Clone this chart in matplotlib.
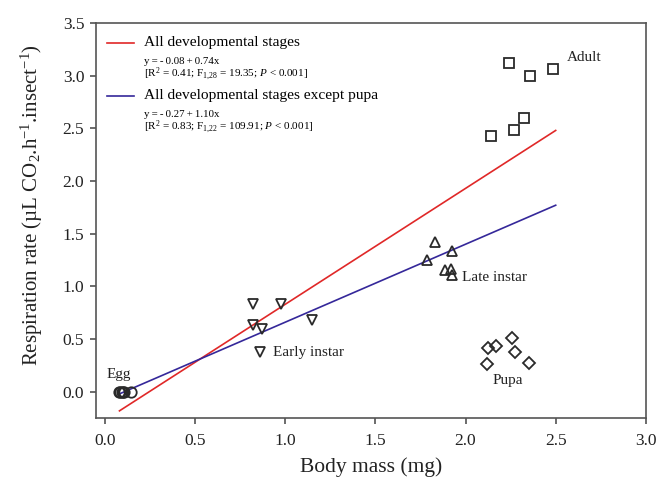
import numpy as np
import matplotlib
matplotlib.use('Agg')
import matplotlib.pyplot as plt

plt.rcParams['font.family'] = ['Liberation Serif', 'DejaVu Serif']
plt.rcParams['mathtext.fontset'] = 'custom'
plt.rcParams['mathtext.rm'] = 'Liberation Serif'
plt.rcParams['mathtext.it'] = 'Liberation Serif:italic'

# data
egg_x = [0.079, 0.085, 0.092, 0.098, 0.105, 0.143]
egg_y = [0.0, 0.0, 0.0, 0.0, 0.0, 0.0]
early_x = [0.82, 0.976, 0.823, 0.869, 1.15, 0.86]
early_y = [0.835, 0.835, 0.636, 0.598, 0.677, 0.373]
late_x = [1.83, 1.923, 1.784, 1.886, 1.917, 1.923]
late_y = [1.417, 1.34, 1.252, 1.157, 1.164, 1.11]
pupa_x = [2.255, 2.126, 2.169, 2.274, 2.117, 2.352]
pupa_y = [0.509, 0.414, 0.43, 0.376, 0.266, 0.272]
adult_x = [2.243, 2.357, 2.487, 2.324, 2.27, 2.141]
adult_y = [3.118, 2.998, 3.06, 2.597, 2.486, 2.429]

# fitted lines as drawn
fit_range = [0.08, 2.5]
red_fit = (-0.27, 1.10)
blue_fit = (-0.08, 0.74)

fig = plt.figure(figsize=(6.59, 4.79), dpi=100)
ax = fig.add_axes([0.1457, 0.1273, 0.8343, 0.8247])

xs = np.array(fit_range)
ax.plot(xs, red_fit[0] + red_fit[1] * xs, color='#e02828', lw=1.2, zorder=2)
ax.plot(xs, blue_fit[0] + blue_fit[1] * xs, color='#35289a', lw=1.2, zorder=2)

mk = dict(ls='none', mfc='none', mec='#2a2a2a', mew=1.3, ms=7.5, zorder=3)
ax.plot(egg_x, egg_y, marker='o', **mk)
ax.plot(early_x, early_y, marker='v', **mk)
ax.plot(late_x, late_y, marker='^', **mk)
ax.plot(pupa_x, pupa_y, marker='D', **dict(mk, ms=6.5))
ax.plot(adult_x, adult_y, marker='s', **mk)

# group labels
lab = dict(fontsize=11, color='#222222', va='center')
ax.text(0.01, 0.16, 'Egg', **lab)
ax.text(0.93, 0.37, 'Early instar', **lab)
ax.text(1.98, 1.08, 'Late instar', **lab)
ax.text(2.15, 0.11, 'Pupa', **lab)
ax.text(2.56, 3.17, 'Adult', **lab)

# legend drawn by hand
tr = ax.transAxes
def ax_x(px):
    return (px - 96) / 550.0
def ax_y(py):
    return (418 - py) / 395.0

ts = '\u2009'
eq1 = ts.join(['y', '=', '-', '0.08', '+', '0.74x'])
eq2 = ts.join(['y', '=', '-', '0.27', '+', '1.10x'])

ax.plot([ax_x(107), ax_x(134)], [ax_y(43), ax_y(43)], color='#e02828', lw=1.2, transform=tr)
ax.text(ax_x(144), ax_y(43), 'All developmental stages', transform=tr, fontsize=11.1, va='center')
ax.text(ax_x(144), ax_y(62), eq1, transform=tr, fontsize=7.8, va='center')
ax.text(ax_x(144), ax_y(74), r'[R$^2$ = 0.41; F$_{1{,}28}$ = 19.35; $P$ < 0.001]', transform=tr,
        fontsize=8.0, va='center')
ax.plot([ax_x(107), ax_x(134)], [ax_y(96), ax_y(96)], color='#35289a', lw=1.2, transform=tr)
ax.text(ax_x(144), ax_y(96), 'All developmental stages except pupa', transform=tr, fontsize=11.1,
        va='center')
ax.text(ax_x(144), ax_y(115), eq2, transform=tr, fontsize=7.8, va='center')
ax.text(ax_x(144), ax_y(127), r'[R$^2$ = 0.83; F$_{1{,}22}$ = 109.91; $P$ < 0.001]', transform=tr,
        fontsize=8.0, va='center')

ax.set_xlim(-0.05, 3.0)
ax.set_ylim(-0.25, 3.5)
ax.set_xticks(np.arange(0, 3.01, 0.5))
ax.set_yticks(np.arange(0, 3.51, 0.5))
ax.xaxis.set_major_formatter(matplotlib.ticker.FormatStrFormatter('%.1f'))
ax.yaxis.set_major_formatter(matplotlib.ticker.FormatStrFormatter('%.1f'))
ax.tick_params(direction='out', length=4.5, width=1.1, color='#444444', labelsize=12.5,
               labelcolor='#222222')
ax.tick_params(axis='x', pad=6)
ax.tick_params(axis='y', pad=4)
for s in ax.spines.values():
    s.set_color('#555555')
    s.set_linewidth(1.2)

ax.set_xlabel('Body mass (mg)', fontsize=15.5, color='#222222', labelpad=6)
ax.set_ylabel(r'Respiration rate (µL CO$_2$.h$^{-1}$.insect$^{-1}$)', fontsize=15,
              color='#222222')
ax.yaxis.set_label_coords(-0.093, 0.54)

fig.savefig('out.png', dpi=100)
